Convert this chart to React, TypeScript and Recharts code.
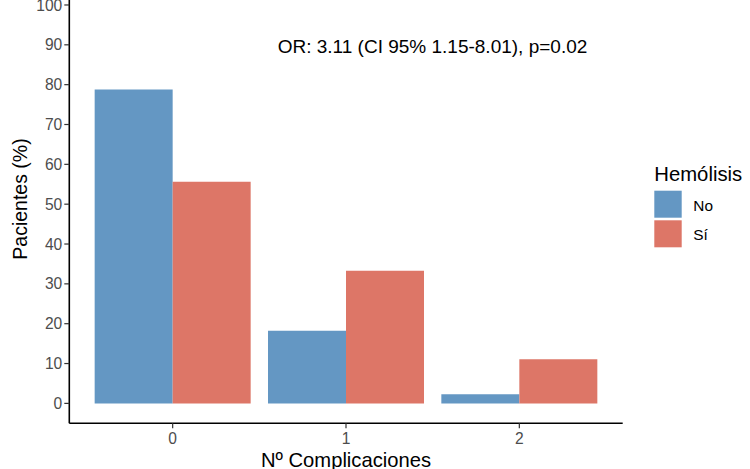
import React from 'react';
import { BarChart, Bar, XAxis, YAxis, Legend } from 'recharts';

const categories = ['0', '1', '2'];
const noValues = [78.8, 18.2, 2.3];
const siValues = [55.6, 33.3, 11.1];
const yTicks = [0, 10, 20, 30, 40, 50, 60, 70, 80, 90, 100];
const seriesKeys = ['No', 'Sí'];
const seriesColors = ['#6497c3', '#dd7667'];
const legendTitle = 'Hemólisis';
const yLabel = 'Pacientes (%)';
const xLabel = 'Nº Complicaciones';
const annotation = 'OR: 3.11 (CI 95% 1.15-8.01), p=0.02';

const data = categories.map((c, i) => ({ cat: c, No: noValues[i], 'Sí': siValues[i] }));

const FONT = '"Liberation Sans", Arial, Helvetica, sans-serif';

const LegendContent = (props: any) => {
  const payload = (props.payload || []) as any[];
  return (
    <svg width={97} height={110} style={{ display: 'block', fontFamily: FONT }}>
      <text x={4.3} y={31} fontSize={20.3} fill="#000">{legendTitle}</text>
      {payload.map((p, i) => (
        <g key={i}>
          <rect x={4.3} y={40.7 + i * 29.6} width={27.4} height={27} fill={p.color} />
          <text x={43.3} y={61 + i * 29.3} fontSize={15.4} fill="#000">{p.value}</text>
        </g>
      ))}
    </svg>
  );
};

export default function App() {
  return (
    <div style={{ position: 'absolute', left: 0, top: 0, width: 750, height: 469, background: '#fff', fontFamily: FONT }}>
      <BarChart
        width={750}
        height={469}
        data={data}
        margin={{ top: 0, right: 127.3, bottom: 0, left: 0 }}
        barCategoryGap="5%"
        barGap={0}
      >
        <XAxis
          dataKey="cat"
          height={45.7}
          padding={{ left: 16.7, right: 16.7 }}
          axisLine={{ stroke: '#000', strokeWidth: 1.6 }}
          tickLine={{ stroke: '#333', strokeWidth: 1.2 }}
          tickSize={5}
          tickMargin={5}
          tick={{ fill: '#4d4d4d', fontSize: 15.6, fontFamily: FONT }}
          label={{ value: xLabel, position: 'insideBottom', offset: 2, style: { fontSize: 20.2, fill: '#000', fontFamily: FONT } }}
        />
        <YAxis
          type="number"
          width={69.3}
          domain={[-5, 101.25]}
          ticks={yTicks}
          interval={0}
          allowDataOverflow
          axisLine={{ stroke: '#000', strokeWidth: 1.6 }}
          tickLine={{ stroke: '#333', strokeWidth: 1.2 }}
          tickSize={5}
          tickMargin={2}
          tick={{ fill: '#4d4d4d', fontSize: 15.6, fontFamily: FONT }}
        />
        <Legend
          layout="vertical"
          align="center"
          verticalAlign="middle"
          wrapperStyle={{ left: 650, top: 150, width: 97, height: 110 }}
          content={<LegendContent />}
        />
        {seriesKeys.map((k, i) => (
          <Bar key={k} dataKey={k} name={k} fill={seriesColors[i]} isAnimationActive={false} />
        ))}
      </BarChart>
      <svg width={750} height={469} style={{ position: 'absolute', left: 0, top: 0, pointerEvents: 'none' }}>
        <text x={432.5} y={52.5} textAnchor="middle" fontSize={19} fill="#000" fontFamily={FONT}>{annotation}</text>
        <text transform="translate(26.5,199) rotate(-90)" x={0} y={0} textAnchor="middle" fontSize={19.5} fill="#000" fontFamily={FONT}>{yLabel}</text>
      </svg>
    </div>
  );
}
